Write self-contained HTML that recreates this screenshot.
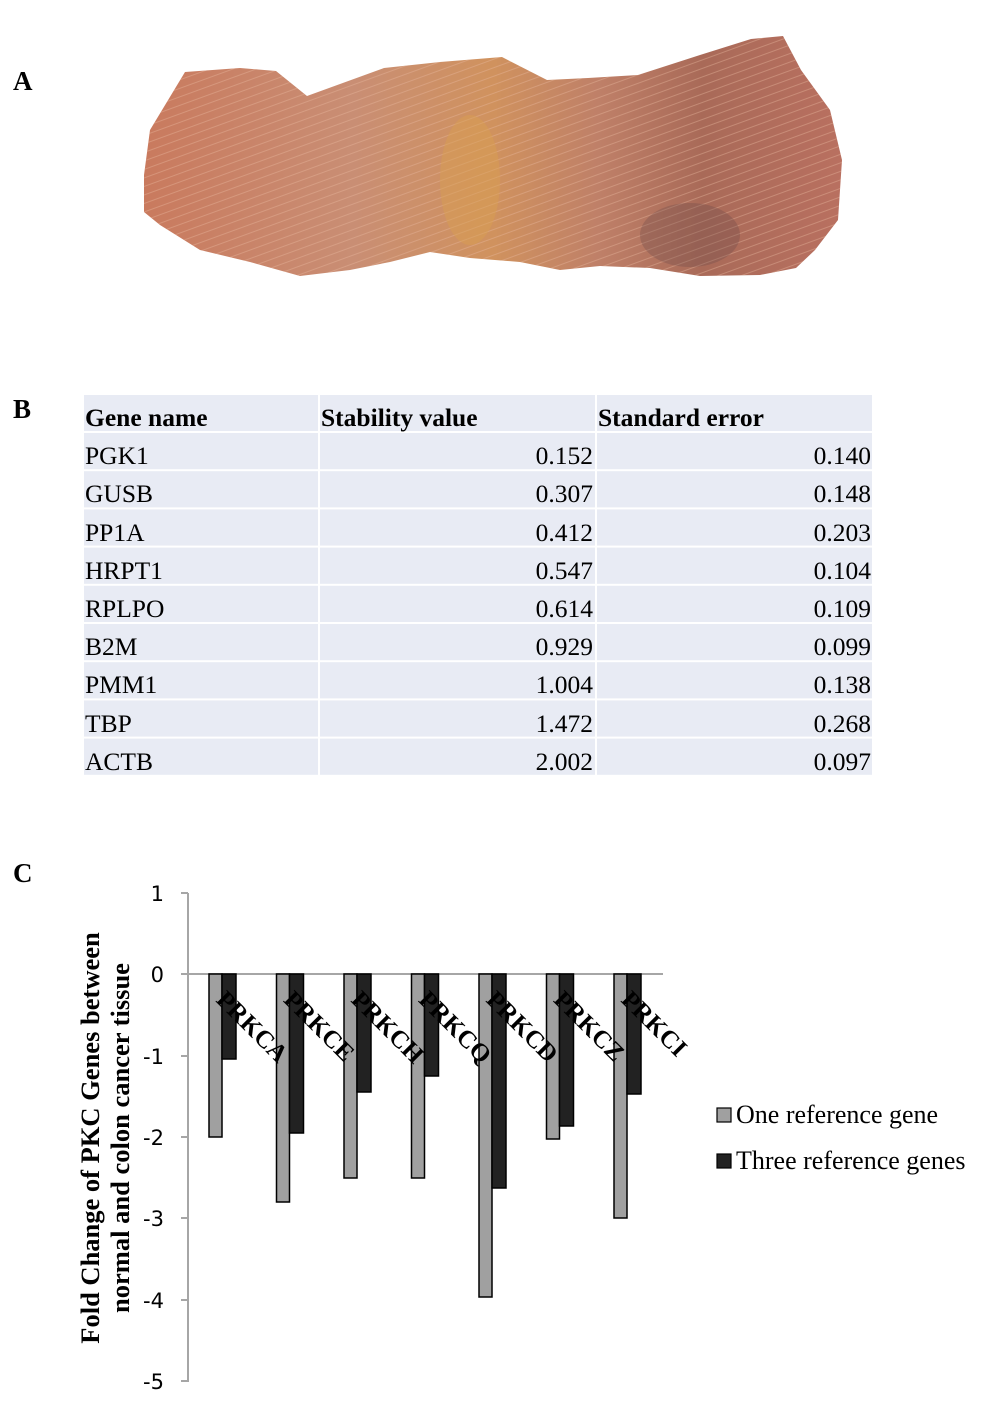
<!DOCTYPE html>
<html><head><meta charset="utf-8"><style>
body{margin:0;background:#fff;}
svg{display:block;}
</style></head><body>
<svg width="1000" height="1412" viewBox="0 0 1000 1412" xmlns="http://www.w3.org/2000/svg">
<defs>
<linearGradient id="tg" x1="0" y1="0" x2="1" y2="0">
<stop offset="0" stop-color="#c97a5e"/>
<stop offset="0.3" stop-color="#c98e74"/>
<stop offset="0.5" stop-color="#d0925e"/>
<stop offset="0.65" stop-color="#bf8068"/>
<stop offset="0.8" stop-color="#a96a58"/>
<stop offset="1" stop-color="#b97060"/>
</linearGradient>
<pattern id="fold" width="8" height="8" patternUnits="userSpaceOnUse" patternTransform="rotate(70)">
<line x1="0" y1="0" x2="0" y2="8" stroke="#e8b8a0" stroke-width="2" opacity="0.4"/>
</pattern>
</defs>
<g font-family="'Liberation Serif',serif" font-weight="bold" font-size="27">
<text x="13" y="90">A</text>
<text x="13" y="418">B</text>
<text x="13" y="882">C</text>
</g>
<path d="M144 175 L150 130 L185 72 L240 68 L276 71 L307 96 L384 68 L440 62 L502 57 L547 80 L588 78 L638 75 L700 55 L751 39 L783 36 L801 70 L830 110 L842 160 L838 220 L815 250 L796 268 L760 275 L700 276 L650 268 L600 266 L560 270 L520 262 L470 258 L430 252 L390 262 L350 270 L300 276 L250 262 L200 250 L160 225 L144 212 Z" fill="url(#tg)"/>
<path d="M144 175 L150 130 L185 72 L240 68 L276 71 L307 96 L384 68 L440 62 L502 57 L547 80 L588 78 L638 75 L700 55 L751 39 L783 36 L801 70 L830 110 L842 160 L838 220 L815 250 L796 268 L760 275 L700 276 L650 268 L600 266 L560 270 L520 262 L470 258 L430 252 L390 262 L350 270 L300 276 L250 262 L200 250 L160 225 L144 212 Z" fill="url(#fold)"/>
<ellipse cx="470" cy="180" rx="30" ry="65" fill="#d9a050" opacity="0.45"/>
<ellipse cx="690" cy="235" rx="50" ry="32" fill="#6a4a4a" opacity="0.3"/>

<g fill="#e8ebf4">
<rect x="84" y="395" width="234" height="36"/><rect x="320" y="395" width="275" height="36"/><rect x="597" y="395" width="275" height="36"/>
<rect x="84" y="433" width="234" height="36.2"/><rect x="320" y="433" width="275" height="36.2"/><rect x="597" y="433" width="275" height="36.2"/>
<rect x="84" y="471.2" width="234" height="36.2"/><rect x="320" y="471.2" width="275" height="36.2"/><rect x="597" y="471.2" width="275" height="36.2"/>
<rect x="84" y="509.4" width="234" height="36.2"/><rect x="320" y="509.4" width="275" height="36.2"/><rect x="597" y="509.4" width="275" height="36.2"/>
<rect x="84" y="547.6" width="234" height="36.2"/><rect x="320" y="547.6" width="275" height="36.2"/><rect x="597" y="547.6" width="275" height="36.2"/>
<rect x="84" y="585.8" width="234" height="36.2"/><rect x="320" y="585.8" width="275" height="36.2"/><rect x="597" y="585.8" width="275" height="36.2"/>
<rect x="84" y="624" width="234" height="36.2"/><rect x="320" y="624" width="275" height="36.2"/><rect x="597" y="624" width="275" height="36.2"/>
<rect x="84" y="662.2" width="234" height="36.2"/><rect x="320" y="662.2" width="275" height="36.2"/><rect x="597" y="662.2" width="275" height="36.2"/>
<rect x="84" y="700.4" width="234" height="36.2"/><rect x="320" y="700.4" width="275" height="36.2"/><rect x="597" y="700.4" width="275" height="36.2"/>
<rect x="84" y="738.6" width="234" height="36.2"/><rect x="320" y="738.6" width="275" height="36.2"/><rect x="597" y="738.6" width="275" height="36.2"/>
</g>
<g font-family="'Liberation Serif',serif" font-size="25.5" fill="#000">
<g font-weight="bold"><text x="85" y="426">Gene name</text><text x="321" y="426">Stability value</text><text x="598" y="426">Standard error</text></g>
<text x="85" y="464">PGK1</text><text x="593" y="464" text-anchor="end">0.152</text><text x="871" y="464" text-anchor="end">0.140</text>
<text x="85" y="502">GUSB</text><text x="593" y="502" text-anchor="end">0.307</text><text x="871" y="502" text-anchor="end">0.148</text>
<text x="85" y="541">PP1A</text><text x="593" y="541" text-anchor="end">0.412</text><text x="871" y="541" text-anchor="end">0.203</text>
<text x="85" y="579">HRPT1</text><text x="593" y="579" text-anchor="end">0.547</text><text x="871" y="579" text-anchor="end">0.104</text>
<text x="85" y="617">RPLPO</text><text x="593" y="617" text-anchor="end">0.614</text><text x="871" y="617" text-anchor="end">0.109</text>
<text x="85" y="655">B2M</text><text x="593" y="655" text-anchor="end">0.929</text><text x="871" y="655" text-anchor="end">0.099</text>
<text x="85" y="693">PMM1</text><text x="593" y="693" text-anchor="end">1.004</text><text x="871" y="693" text-anchor="end">0.138</text>
<text x="85" y="732">TBP</text><text x="593" y="732" text-anchor="end">1.472</text><text x="871" y="732" text-anchor="end">0.268</text>
<text x="85" y="770">ACTB</text><text x="593" y="770" text-anchor="end">2.002</text><text x="871" y="770" text-anchor="end">0.097</text>
</g>

<g stroke="#a6a6a6" stroke-width="2">
<line x1="188" y1="893" x2="188" y2="1382"/>
<line x1="181" y1="893" x2="188" y2="893"/>
<line x1="181" y1="974" x2="663" y2="974"/>
<line x1="181" y1="1056" x2="188" y2="1056"/>
<line x1="181" y1="1137" x2="188" y2="1137"/>
<line x1="181" y1="1218" x2="188" y2="1218"/>
<line x1="181" y1="1300" x2="188" y2="1300"/>
<line x1="181" y1="1381" x2="188" y2="1381"/>
</g>
<g font-family="'DejaVu Sans',sans-serif" font-size="21" text-anchor="end">
<text x="164" y="901">1</text><text x="164" y="982">0</text><text x="164" y="1064">-1</text><text x="164" y="1145">-2</text><text x="164" y="1226">-3</text><text x="164" y="1308">-4</text><text x="164" y="1389">-5</text>
</g>
<g stroke="#000" stroke-width="1.5">
<g fill="#a0a0a0">
<rect x="209" y="974" width="13" height="163"/>
<rect x="276.5" y="974" width="13" height="228"/>
<rect x="344" y="974" width="13" height="204"/>
<rect x="411.5" y="974" width="13" height="204"/>
<rect x="479" y="974" width="13" height="323"/>
<rect x="546.5" y="974" width="13" height="165"/>
<rect x="614" y="974" width="13" height="244"/>
</g>
<g fill="#222">
<rect x="222" y="974" width="14" height="85"/>
<rect x="289.5" y="974" width="14" height="159"/>
<rect x="357" y="974" width="14" height="118"/>
<rect x="424.5" y="974" width="14" height="102"/>
<rect x="492" y="974" width="14" height="214"/>
<rect x="559.5" y="974" width="14" height="152"/>
<rect x="627" y="974" width="14" height="120"/>
</g>
</g>
<g font-family="'Liberation Serif',serif" font-weight="bold" font-size="25" fill="#000">
<text transform="translate(215,1001) rotate(45)">PRKCA</text>
<text transform="translate(282.5,1001) rotate(45)">PRKCE</text>
<text transform="translate(350,1001) rotate(45)">PRKCH</text>
<text transform="translate(417.5,1001) rotate(45)">PRKCQ</text>
<text transform="translate(485,1001) rotate(45)">PRKCD</text>
<text transform="translate(552.5,1001) rotate(45)">PRKCZ</text>
<text transform="translate(620,1001) rotate(45)">PRKCI</text>
</g>
<g font-family="'Liberation Serif',serif" font-weight="bold" font-size="26.5" text-anchor="middle">
<text transform="translate(99,1138) rotate(-90)">Fold Change of PKC Genes between</text>
<text transform="translate(129,1138) rotate(-90)">normal and colon cancer tissue</text>
</g>
<rect x="717" y="1108" width="14" height="14" fill="#a0a0a0" stroke="#000" stroke-width="1.2"/>
<rect x="717" y="1154" width="14" height="14" fill="#222" stroke="#000" stroke-width="1.2"/>
<g font-family="'Liberation Serif',serif" font-size="26">
<text x="736" y="1123">One reference gene</text>
<text x="736" y="1169">Three reference genes</text>
</g>
</svg>
</body></html>
